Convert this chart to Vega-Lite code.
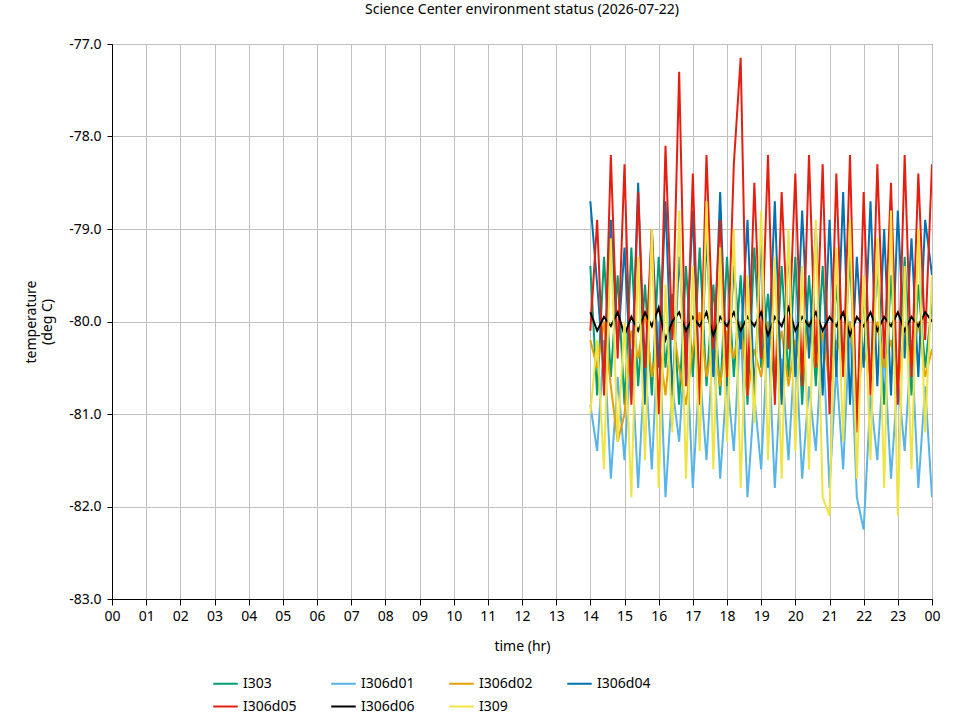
{
  "$schema": "https://vega.github.io/schema/vega-lite/v6.json",
  "autosize": "none",
  "width": 820,
  "height": 555,
  "padding": {"left": 112, "top": 44, "right": 28, "bottom": 121},
  "background": "white",
  "title": {"text": "Science Center environment status (2026-07-22)", "fontSize": 14, "fontWeight": "normal", "font": "Noto Sans", "offset": 20},
  "config": {"font": "Noto Sans", "view": {"stroke": "black"}},
  "data": {"values": [
    {"t":14.0,"I303":-79.4,"I306d01":-80.9,"I306d02":-80.2,"I306d04":-78.7,"I306d05":-80.1,"I306d06":-79.9,"I309":-81.0},
    {"t":14.2,"I303":-80.8,"I306d01":-81.4,"I306d02":-80.5,"I306d04":-79.6,"I306d05":-78.9,"I306d06":-80.1,"I309":-80.2},
    {"t":14.4,"I303":-79.3,"I306d01":-80.2,"I306d02":-80.0,"I306d04":-80.6,"I306d05":-80.8,"I306d06":-79.95,"I309":-81.6},
    {"t":14.6,"I303":-80.6,"I306d01":-81.7,"I306d02":-80.7,"I306d04":-78.9,"I306d05":-78.2,"I306d06":-80.05,"I309":-79.1},
    {"t":14.8,"I303":-79.5,"I306d01":-80.6,"I306d02":-81.3,"I306d04":-80.3,"I306d05":-80.4,"I306d06":-79.9,"I309":-81.3},
    {"t":15.0,"I303":-80.9,"I306d01":-81.5,"I306d02":-81.0,"I306d04":-79.2,"I306d05":-78.3,"I306d06":-80.15,"I309":-80.0},
    {"t":15.2,"I303":-79.2,"I306d01":-80.3,"I306d02":-80.1,"I306d04":-80.7,"I306d05":-80.9,"I306d06":-79.95,"I309":-81.9},
    {"t":15.4,"I303":-80.7,"I306d01":-81.8,"I306d02":-80.4,"I306d04":-78.5,"I306d05":-78.6,"I306d06":-80.1,"I309":-79.3},
    {"t":15.6,"I303":-79.6,"I306d01":-80.4,"I306d02":-79.9,"I306d04":-80.9,"I306d05":-80.5,"I306d06":-79.9,"I309":-81.5},
    {"t":15.8,"I303":-80.8,"I306d01":-81.6,"I306d02":-80.6,"I306d04":-79.0,"I306d05":-79.0,"I306d06":-80.05,"I309":-79.0},
    {"t":16.0,"I303":-79.3,"I306d01":-80.0,"I306d02":-80.2,"I306d04":-80.5,"I306d05":-81.0,"I306d06":-79.85,"I309":-81.8},
    {"t":16.2,"I303":-80.5,"I306d01":-81.9,"I306d02":-80.8,"I306d04":-78.7,"I306d05":-78.1,"I306d06":-80.2,"I309":-79.6},
    {"t":16.4,"I303":-79.7,"I306d01":-80.7,"I306d02":-80.0,"I306d04":-80.8,"I306d05":-80.2,"I306d06":-80.0,"I309":-81.2},
    {"t":16.6,"I303":-80.9,"I306d01":-81.3,"I306d02":-80.5,"I306d04":-79.3,"I306d05":-77.3,"I306d06":-79.9,"I309":-78.8},
    {"t":16.8,"I303":-79.4,"I306d01":-80.1,"I306d02":-80.9,"I306d04":-80.4,"I306d05":-80.7,"I306d06":-80.1,"I309":-81.7},
    {"t":17.0,"I303":-80.6,"I306d01":-81.8,"I306d02":-80.3,"I306d04":-78.8,"I306d05":-78.4,"I306d06":-79.95,"I309":-79.4},
    {"t":17.2,"I303":-79.2,"I306d01":-80.5,"I306d02":-79.9,"I306d04":-80.9,"I306d05":-80.9,"I306d06":-80.05,"I309":-81.4},
    {"t":17.4,"I303":-80.7,"I306d01":-81.5,"I306d02":-80.6,"I306d04":-79.1,"I306d05":-78.2,"I306d06":-79.9,"I309":-78.7},
    {"t":17.6,"I303":-79.6,"I306d01":-80.2,"I306d02":-80.2,"I306d04":-80.6,"I306d05":-80.3,"I306d06":-80.15,"I309":-81.6},
    {"t":17.8,"I303":-80.8,"I306d01":-81.7,"I306d02":-80.7,"I306d04":-78.6,"I306d05":-78.9,"I306d06":-79.95,"I309":-79.2},
    {"t":18.0,"I303":-79.3,"I306d01":-80.6,"I306d02":-80.1,"I306d04":-80.7,"I306d05":-80.6,"I306d06":-80.05,"I309":-81.3},
    {"t":18.2,"I303":-80.6,"I306d01":-81.4,"I306d02":-80.4,"I306d04":-79.4,"I306d05":-78.3,"I306d06":-79.9,"I309":-79.0},
    {"t":18.4,"I303":-79.5,"I306d01":-80.0,"I306d02":-80.0,"I306d04":-80.3,"I306d05":-77.15,"I306d06":-80.1,"I309":-81.8},
    {"t":18.6,"I303":-80.9,"I306d01":-81.9,"I306d02":-80.8,"I306d04":-78.9,"I306d05":-80.8,"I306d06":-79.95,"I309":-79.5},
    {"t":18.8,"I303":-79.2,"I306d01":-80.8,"I306d02":-80.3,"I306d04":-80.8,"I306d05":-78.5,"I306d06":-80.05,"I309":-81.1},
    {"t":19.0,"I303":-80.5,"I306d01":-81.6,"I306d02":-80.6,"I306d04":-79.1,"I306d05":-80.4,"I306d06":-79.9,"I309":-78.8},
    {"t":19.2,"I303":-79.7,"I306d01":-80.1,"I306d02":-80.0,"I306d04":-80.5,"I306d05":-78.2,"I306d06":-80.15,"I309":-81.5},
    {"t":19.4,"I303":-80.8,"I306d01":-81.8,"I306d02":-80.5,"I306d04":-78.7,"I306d05":-80.9,"I306d06":-79.95,"I309":-79.3},
    {"t":19.6,"I303":-79.4,"I306d01":-80.4,"I306d02":-80.1,"I306d04":-80.9,"I306d05":-78.6,"I306d06":-80.05,"I309":-81.7},
    {"t":19.8,"I303":-80.6,"I306d01":-81.5,"I306d02":-80.7,"I306d04":-79.2,"I306d05":-80.3,"I306d06":-79.85,"I309":-79.0},
    {"t":20.0,"I303":-79.3,"I306d01":-80.2,"I306d02":-80.2,"I306d04":-80.6,"I306d05":-78.4,"I306d06":-80.1,"I309":-81.4},
    {"t":20.2,"I303":-80.9,"I306d01":-81.7,"I306d02":-80.6,"I306d04":-78.8,"I306d05":-80.7,"I306d06":-79.95,"I309":-79.4},
    {"t":20.4,"I303":-79.5,"I306d01":-80.7,"I306d02":-80.0,"I306d04":-80.4,"I306d05":-78.2,"I306d06":-80.05,"I309":-81.6},
    {"t":20.6,"I303":-80.7,"I306d01":-81.4,"I306d02":-80.5,"I306d04":-79.0,"I306d05":-80.5,"I306d06":-79.9,"I309":-78.9},
    {"t":20.8,"I303":-79.4,"I306d01":-80.1,"I306d02":-80.1,"I306d04":-80.8,"I306d05":-78.3,"I306d06":-80.1,"I309":-81.9},
    {"t":21.0,"I303":-80.8,"I306d01":-81.8,"I306d02":-80.7,"I306d04":-78.9,"I306d05":-81.0,"I306d06":-79.95,"I309":-82.1},
    {"t":21.2,"I303":-79.6,"I306d01":-80.5,"I306d02":-80.2,"I306d04":-80.6,"I306d05":-78.4,"I306d06":-80.05,"I309":-79.2},
    {"t":21.4,"I303":-80.5,"I306d01":-81.6,"I306d02":-80.4,"I306d04":-78.6,"I306d05":-80.6,"I306d06":-79.9,"I309":-81.3},
    {"t":21.6,"I303":-79.3,"I306d01":-80.0,"I306d02":-80.0,"I306d04":-80.9,"I306d05":-78.2,"I306d06":-80.15,"I309":-78.9},
    {"t":21.8,"I303":-81.0,"I306d01":-81.9,"I306d02":-80.8,"I306d04":-79.3,"I306d05":-81.2,"I306d06":-79.95,"I309":-81.7},
    {"t":22.0,"I303":-79.7,"I306d01":-82.25,"I306d02":-80.3,"I306d04":-80.5,"I306d05":-78.6,"I306d06":-80.05,"I309":-79.5},
    {"t":22.2,"I303":-80.6,"I306d01":-80.8,"I306d02":-80.6,"I306d04":-78.7,"I306d05":-80.8,"I306d06":-79.9,"I309":-81.5},
    {"t":22.4,"I303":-79.4,"I306d01":-81.5,"I306d02":-80.0,"I306d04":-80.7,"I306d05":-78.3,"I306d06":-80.1,"I309":-79.1},
    {"t":22.6,"I303":-80.9,"I306d01":-80.3,"I306d02":-80.5,"I306d04":-79.0,"I306d05":-80.4,"I306d06":-79.95,"I309":-81.8},
    {"t":22.8,"I303":-79.5,"I306d01":-81.7,"I306d02":-80.2,"I306d04":-80.8,"I306d05":-78.5,"I306d06":-80.05,"I309":-78.8},
    {"t":23.0,"I303":-80.7,"I306d01":-80.6,"I306d02":-80.7,"I306d04":-78.8,"I306d05":-80.9,"I306d06":-79.9,"I309":-82.1},
    {"t":23.2,"I303":-79.3,"I306d01":-81.4,"I306d02":-80.1,"I306d04":-80.4,"I306d05":-78.2,"I306d06":-80.1,"I309":-79.4},
    {"t":23.4,"I303":-80.8,"I306d01":-80.2,"I306d02":-80.5,"I306d04":-79.1,"I306d05":-80.6,"I306d06":-79.95,"I309":-81.6},
    {"t":23.6,"I303":-79.6,"I306d01":-81.8,"I306d02":-80.0,"I306d04":-80.6,"I306d05":-78.4,"I306d06":-80.05,"I309":-79.0},
    {"t":23.8,"I303":-80.5,"I306d01":-80.7,"I306d02":-80.6,"I306d04":-78.9,"I306d05":-80.2,"I306d06":-79.9,"I309":-81.2},
    {"t":24.0,"I303":-79.8,"I306d01":-81.9,"I306d02":-80.3,"I306d04":-79.5,"I306d05":-78.3,"I306d06":-80.0,"I309":-79.5}
  ]},
  "transform": [
    {"fold": ["I303", "I306d01", "I306d02", "I306d04", "I306d05", "I306d06", "I309"], "as": ["sensor", "temp"]}
  ],
  "mark": {"type": "line", "strokeWidth": 2, "clip": true},
  "encoding": {
    "x": {
      "field": "t", "type": "quantitative",
      "scale": {"domain": [0, 24], "nice": false, "zero": false},
      "axis": {
        "title": "time (hr)", "titleFontWeight": "normal", "titleFontSize": 14, "titlePadding": 16,
        "values": [0,1,2,3,4,5,6,7,8,9,10,11,12,13,14,15,16,17,18,19,20,21,22,23,24],
        "labelExpr": "(datum.value % 24 < 10 ? '0' : '') + (datum.value % 24)",
        "labelFlush": false,
        "labelFontSize": 14, "labelColor": "black", "tickColor": "black", "domainColor": "black",
        "gridColor": "#c0c0c0", "gridOpacity": 1, "tickSize": 6, "labelPadding": 4
      }
    },
    "y": {
      "field": "temp", "type": "quantitative",
      "scale": {"domain": [-83, -77], "nice": false, "zero": false},
      "axis": {
        "title": ["temperature", "(deg C)"], "titleFontWeight": "normal", "titleFontSize": 14, "titlePadding": 14,
        "values": [-83, -82, -81, -80, -79, -78, -77],
        "labelExpr": "replace(format(datum.value, '.1f'), '\u2212', '-')",
        "labelFlush": false,
        "labelFontSize": 14, "labelColor": "black", "tickColor": "black", "domainColor": "black",
        "gridColor": "#c0c0c0", "gridOpacity": 1, "labelPadding": 6
      }
    },
    "color": {
      "field": "sensor", "type": "nominal",
      "scale": {
        "domain": ["I303", "I306d01", "I306d02", "I306d04", "I306d05", "I306d06", "I309"],
        "range": ["#009e73", "#56b4e9", "#e69f00", "#0072b2", "#e51e10", "#000000", "#f0e442"]
      },
      "legend": {
        "title": null, "orient": "none", "legendX": 100, "legendY": 626,
        "direction": "horizontal", "columns": 4,
        "symbolType": "stroke", "symbolSize": 600, "symbolStrokeWidth": 2,
        "labelFontSize": 14, "columnPadding": 30, "rowPadding": 2
      }
    }
  }
}
